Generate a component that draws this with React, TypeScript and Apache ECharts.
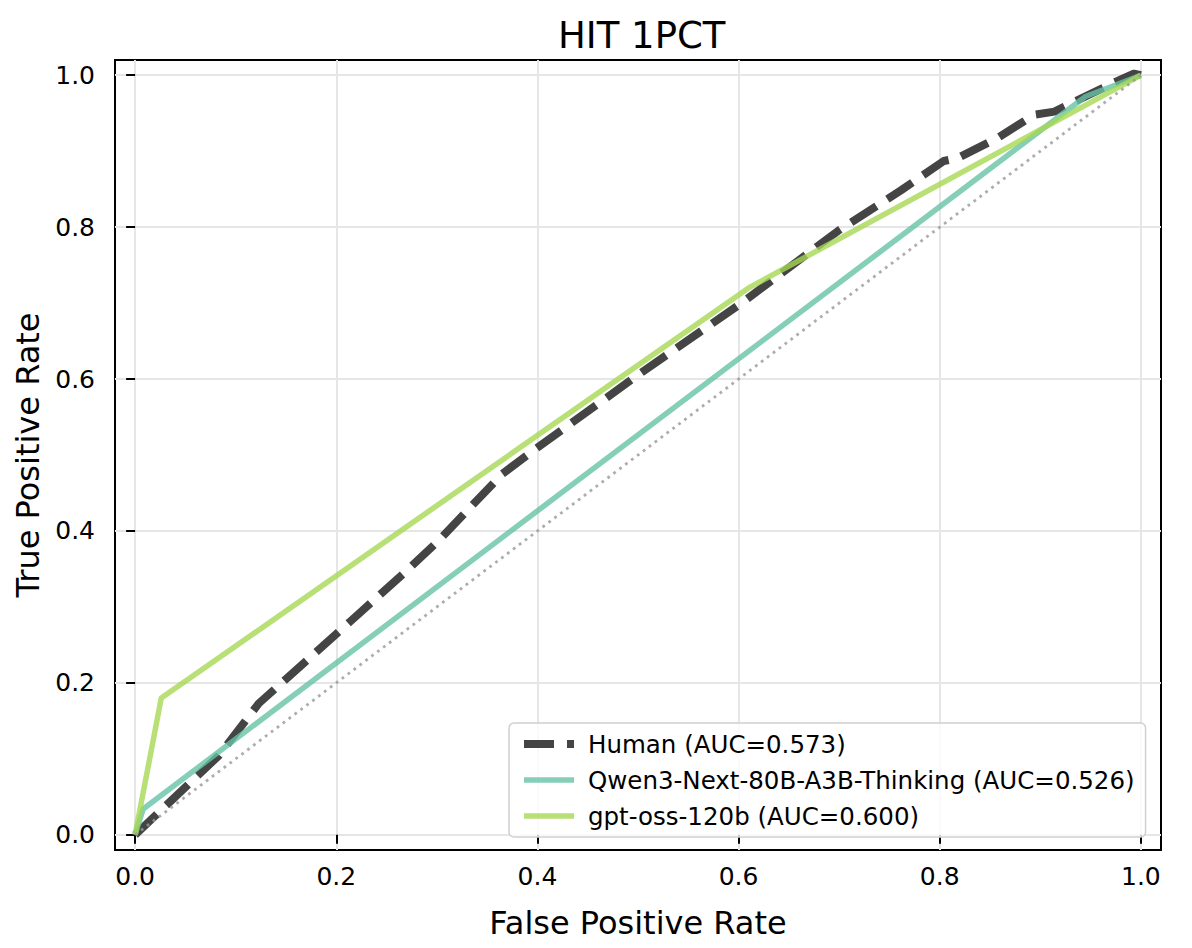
import React, { useEffect, useRef } from "react";
import * as echarts from "echarts";

const tickValues = [0, 0.2, 0.4, 0.6, 0.8, 1.0];

const humanFpr = [0, 0.083, 0.123, 0.214, 0.267, 0.3, 0.365, 0.395, 0.506, 0.604, 0.701, 0.761, 0.804, 0.818, 0.857, 0.894, 0.914, 0.934, 0.973, 0.993, 1];
const humanTpr = [0, 0.104, 0.173, 0.281, 0.344, 0.385, 0.475, 0.505, 0.611, 0.701, 0.797, 0.848, 0.887, 0.891, 0.917, 0.948, 0.952, 0.965, 0.99, 1.002, 1];

const qwenFpr = [0, 0.008, 0.945, 1];
const qwenTpr = [0, 0.034, 0.972, 1];

const gptFpr = [0, 0.026, 0.61, 1];
const gptTpr = [0, 0.18, 0.72, 1];

const chanceFpr = [0, 1];
const chanceTpr = [0, 1];

const seriesNames = [
  "Human (AUC=0.573)",
  "Qwen3-Next-80B-A3B-Thinking (AUC=0.526)",
  "gpt-oss-120b (AUC=0.600)",
];

const zip = (xs: number[], ys: number[]) => xs.map((x, i) => [x, ys[i]]);

const FONT = "DejaVu Sans";

export default function App() {
  const ref = useRef<HTMLDivElement>(null);
  useEffect(() => {
    const chart = echarts.init(ref.current!, null, { renderer: "svg" });
    const axisCommon = {
      type: "value",
      min: -0.02,
      max: 1.02,
      axisLine: { show: false },
      axisTick: {
        show: true,
        length: 9,
        inside: false,
        customValues: tickValues,
        lineStyle: { color: "#000", width: 2 },
      },
      splitLine: { show: true, lineStyle: { color: "#e6e6e6", width: 2 } },
      nameLocation: "middle",
      nameTextStyle: { fontFamily: FONT, fontSize: 32, color: "#000" },
    };
    chart.setOption({
      animation: false,
      backgroundColor: "#fff",
      title: {
        text: "HIT 1PCT",
        left: 553,
        top: 12,
        textStyle: { fontFamily: FONT, fontSize: 37, fontWeight: "normal", color: "#000" },
      },
      grid: {
        left: 115,
        top: 60,
        right: 31,
        bottom: 98,
        show: true,
        borderColor: "#000",
        borderWidth: 2,
        backgroundColor: "transparent",
      },
      xAxis: {
        ...axisCommon,
        name: "False Positive Rate",
        nameGap: 57,
        axisLabel: {
          customValues: tickValues,
          formatter: (v: number) => v.toFixed(1),
          fontFamily: FONT,
          fontSize: 25,
          color: "#000",
          margin: 14,
        },
      },
      yAxis: {
        ...axisCommon,
        name: "True Positive Rate",
        nameGap: 60,
        axisLabel: {
          customValues: tickValues,
          formatter: (v: number) => v.toFixed(1),
          fontFamily: FONT,
          fontSize: 25,
          color: "#000",
          margin: 20,
        },
      },
      legend: {
        orient: "vertical",
        left: 509,
        top: 723,
        data: [
          { name: seriesNames[0], lineStyle: { width: 8, color: "#444444", type: [30, 13] } },
          { name: seriesNames[1], lineStyle: { width: 5.5, color: "#66c2a5", opacity: 0.8 } },
          { name: seriesNames[2], lineStyle: { width: 5.5, color: "#a6d854", opacity: 0.8 } },
        ],
        itemWidth: 50,
        itemHeight: 14,
        itemGap: 8,
        itemStyle: { opacity: 0 },
        padding: [7, 11, 7, 11],
        borderColor: "#d0d0d0",
        borderWidth: 1.5,
        borderRadius: 5,
        backgroundColor: "rgba(255,255,255,0.8)",
        textStyle: {
          fontFamily: FONT,
          fontSize: 24.5,
          color: "#000",
          lineHeight: 28,
          padding: [0, 0, 0, 9],
        },
      },
      series: [
        {
          name: seriesNames[0],
          type: "line",
          data: zip(humanFpr, humanTpr),
          showSymbol: false,
          symbol: "none",
          clip: false,
          z: 3,
          lineStyle: { color: "#444444", width: 8, type: [30, 13], cap: "butt", join: "round" },
          itemStyle: { color: "#444444" },
        },
        {
          name: seriesNames[1],
          type: "line",
          data: zip(qwenFpr, qwenTpr),
          showSymbol: false,
          symbol: "none",
          clip: false,
          z: 4,
          lineStyle: { color: "#66c2a5", opacity: 0.8, width: 5.5, join: "round" },
          itemStyle: { color: "#66c2a5", opacity: 0.8 },
        },
        {
          name: seriesNames[2],
          type: "line",
          data: zip(gptFpr, gptTpr),
          showSymbol: false,
          symbol: "none",
          clip: false,
          z: 5,
          lineStyle: { color: "#a6d854", opacity: 0.8, width: 5.5, join: "round" },
          itemStyle: { color: "#a6d854", opacity: 0.8 },
        },
        {
          name: "chance",
          type: "line",
          data: zip(chanceFpr, chanceTpr),
          showSymbol: false,
          symbol: "none",
          clip: false,
          z: 6,
          silent: true,
          lineStyle: { color: "#999999", opacity: 0.8, width: 2.8, type: [2.8, 4.6] },
        },
      ],
    });
    return () => chart.dispose();
  }, []);
  return (
    <div
      ref={ref}
      style={{ position: "absolute", left: 0, top: 0, width: 1192, height: 948 }}
    />
  );
}
